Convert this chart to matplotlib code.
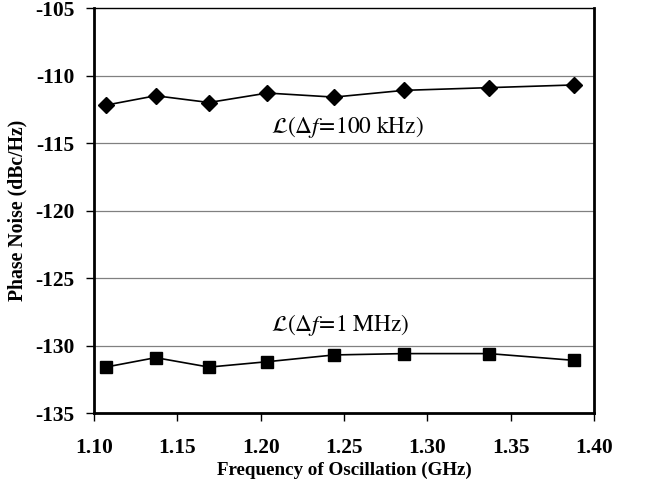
import matplotlib
matplotlib.use("Agg")
import matplotlib.pyplot as plt

# oscillation frequency (GHz) and phase noise (dBc/Hz)
freq_ghz = [1.107, 1.137, 1.169, 1.204, 1.244, 1.286, 1.337, 1.388]
pn_100khz = [-112.2, -111.5, -112.0, -111.3, -111.6, -111.1, -110.9, -110.7]
pn_1mhz = [-131.6, -130.9, -131.6, -131.2, -130.7, -130.6, -130.6, -131.1]

x_ticks = [1.10, 1.15, 1.20, 1.25, 1.30, 1.35, 1.40]
y_ticks = [-135, -130, -125, -120, -115, -110, -105]

plt.rcParams["font.family"] = ["Liberation Serif", "DejaVu Serif"]
plt.rcParams["mathtext.fontset"] = "stix"

fig = plt.figure(figsize=(6.47, 4.86), dpi=100)
ax = fig.add_axes([94 / 647, 73 / 486, 500 / 647, 405 / 486])

ax.plot(freq_ghz, pn_100khz, color="black", lw=1.2, marker="D", ms=8.5, zorder=3)
ax.plot(freq_ghz, pn_1mhz, color="black", lw=1.2, marker="s", ms=9, zorder=3)

ax.set_xlim(1.10, 1.40)
ax.set_ylim(-135, -105)
ax.set_xticks(x_ticks)
ax.set_xticklabels([f"{v:.2f}" for v in x_ticks])
ax.set_yticks(y_ticks)
ax.set_yticklabels([str(v) for v in y_ticks])
ax.tick_params(direction="out", length=6, width=1, labelsize=15.5)
for lab in ax.get_xticklabels() + ax.get_yticklabels():
    lab.set_fontweight("bold")
ax.tick_params(axis="x", pad=12)
ax.tick_params(axis="y", pad=8)

for y in y_ticks[1:-1]:
    ax.axhline(y, color="#808080", lw=0.9, zorder=1)

for side in ["left", "bottom", "right"]:
    ax.spines[side].set_linewidth(2)
ax.spines["top"].set_linewidth(1)

ax.set_xlabel("Frequency of Oscillation (GHz)", fontsize=13.7, fontweight="bold", labelpad=3)
ax.set_ylabel("Phase Noise (dBc/Hz)", fontsize=14.2, fontweight="bold")
ax.yaxis.set_label_coords(-67 / 500, 0.5)

ax.text(1.252, -113.8, r"$\mathcal{L}(\Delta f\!=\!100\ \mathrm{kHz})$", fontsize=16.8,
        ha="center", va="center")
ax.text(1.248, -128.5, r"$\mathcal{L}(\Delta f\!=\!1\ \mathrm{MHz})$", fontsize=16.8,
        ha="center", va="center")

fig.savefig("out.png", dpi=100)
